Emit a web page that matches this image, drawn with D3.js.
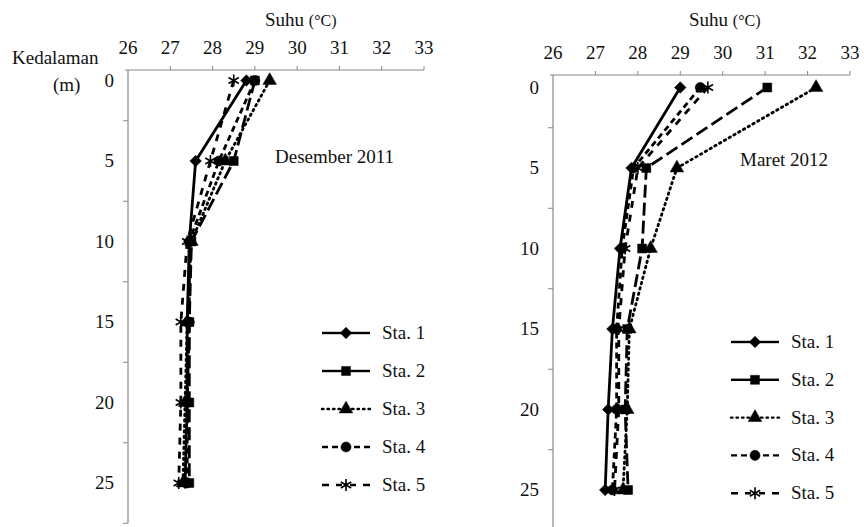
<!DOCTYPE html>
<html>
<head>
<meta charset="utf-8">
<script src="https://cdn.jsdelivr.net/npm/d3@7"></script>
<style>
  body { margin: 0; background: #fff; }
</style>
</head>
<body>
<svg id="chart" width="864" height="527" font-family="'Liberation Serif', 'DejaVu Serif', serif"></svg>
<script>
// depth (m) and temperature ticks
var depths = [0, 5, 10, 15, 20, 25];
var tempTicks = [26, 27, 28, 29, 30, 31, 32, 33];
var depthLabels = [0, 5, 10, 15, 20, 25];
var depthTicks = [2.5, 7.5, 12.5, 17.5, 22.5, 27.5];
var stations = ["Sta. 1", "Sta. 2", "Sta. 3", "Sta. 4", "Sta. 5"];

// Desember 2011, one row per station (temperature at each depth)
var decTemps = [
  [28.8, 27.6, 27.45, 27.4, 27.4, 27.35],
  [29.0, 28.5, 27.5, 27.45, 27.45, 27.45],
  [29.35, 28.3, 27.5, 27.4, 27.35, 27.3],
  [29.0, 28.15, 27.45, 27.45, 27.4, 27.4],
  [28.5, 27.95, 27.4, 27.25, 27.25, 27.2]
];

// Maret 2012
var marTemps = [
  [29.0, 27.85, 27.58, 27.4, 27.3, 27.23],
  [31.05, 28.2, 28.1, 27.75, 27.7, 27.77],
  [32.2, 28.92, 28.3, 27.8, 27.75, 27.65],
  [29.47, 27.9, 27.63, 27.5, 27.5, 27.4],
  [29.65, 28.0, 27.7, 27.55, 27.55, 27.45]
];

// line style + marker per station
var dashes = ["none", "13,5", "1.5,4", "6,4", "7,7"];
var symbols = [d3.symbolDiamond2, d3.symbolSquare, d3.symbolTriangle, d3.symbolCircle, d3.symbolAsterisk];
var symSize = [85, 80, 80, 80, 100];

var svg = d3.select("#chart");
var serif = "'Liberation Serif', 'DejaVu Serif', serif";

function label(sel) {
  return sel.attr("font-family", serif).attr("fill", "#111").attr("font-size", 19);
}

function drawPanel(p, temps) {
  var x = d3.scaleLinear().domain([26, 33]).range([p.left, p.right]);
  var y = d3.scaleLinear().domain([0, 27.5]).range([p.zeroY, p.zeroY + 27.5 * p.perM]);
  var g = svg.append("g");

  // x axis on top
  g.append("line")
    .attr("x1", p.left - 3).attr("x2", p.right)
    .attr("y1", p.top).attr("y2", p.top)
    .attr("stroke", "#888").attr("stroke-width", 1.2);
  g.selectAll(".xt").data(tempTicks.slice(1)).enter().append("line")
    .attr("x1", function(d) { return x(d); }).attr("x2", function(d) { return x(d); })
    .attr("y1", p.top).attr("y2", p.top - 4)
    .attr("stroke", "#888");
  label(g.selectAll(".xl").data(tempTicks).enter().append("text"))
    .attr("x", function(d) { return x(d); })
    .attr("y", p.top - 16)
    .attr("text-anchor", "middle")
    .text(function(d) { return d; });

  // y axis
  g.append("line")
    .attr("x1", p.left).attr("x2", p.left)
    .attr("y1", p.top).attr("y2", y(27.5))
    .attr("stroke", "#888").attr("stroke-width", 1.2);
  g.selectAll(".yt").data(depthTicks).enter().append("line")
    .attr("x1", p.left - 5).attr("x2", p.left)
    .attr("y1", function(d) { return y(d); }).attr("y2", function(d) { return y(d); })
    .attr("stroke", "#888");
  label(g.selectAll(".yl").data(depthLabels).enter().append("text"))
    .attr("x", p.left - 14)
    .attr("y", function(d) { return y(d) + 6; })
    .attr("text-anchor", "end")
    .text(function(d) { return d; });

  // title
  var t = label(g.append("text")).attr("x", p.titleX).attr("y", 26);
  t.append("tspan").text("Suhu ");
  t.append("tspan").attr("font-size", 16).text(p.unitGap + "(\u00B0C)");

  label(g.append("text")).attr("x", p.labelX).attr("y", p.labelY).text(p.label);

  var line = d3.line()
    .x(function(d) { return x(d[1]); })
    .y(function(d) { return y(d[0]); });

  temps.forEach(function(row, i) {
    var pts = depths.map(function(dep, j) { return [dep, row[j]]; });
    g.append("path")
      .datum(pts)
      .attr("d", line)
      .attr("fill", "none")
      .attr("stroke", "#000")
      .attr("stroke-width", 2.8)
      .attr("stroke-linecap", i == 2 ? "round" : "butt")
      .attr("stroke-dasharray", dashes[i]);
    g.selectAll(".m" + i).data(pts).enter().append("path")
      .attr("transform", function(d) { return "translate(" + x(d[1]) + "," + y(d[0]) + ")"; })
      .attr("d", d3.symbol().type(symbols[i]).size(symSize[i]))
      .attr("fill", i == 4 ? "none" : "#000")
      .attr("stroke", "#000")
      .attr("stroke-width", i == 4 ? 1.6 : 0.5);
  });

  // legend
  stations.forEach(function(s, i) {
    var ly = p.legY + i * p.legStep;
    [[p.legX - 24, p.legX - 4], [p.legX + 4, p.legX + 24]].forEach(function(seg, k) {
      g.append("line")
        .attr("x1", k == 0 ? seg[0] : seg[1]).attr("x2", k == 0 ? seg[1] : seg[0])
        .attr("y1", ly).attr("y2", ly)
        .attr("stroke", "#000").attr("stroke-width", 2.4)
        .attr("stroke-linecap", i == 2 ? "round" : "butt")
        .attr("stroke-dasharray", i == 1 ? "none" : dashes[i]);
    });
    g.append("path")
      .attr("transform", "translate(" + p.legX + "," + ly + ")")
      .attr("d", d3.symbol().type(symbols[i]).size(symSize[i]))
      .attr("fill", i == 4 ? "none" : "#000")
      .attr("stroke", "#000")
      .attr("stroke-width", i == 4 ? 1.6 : 0.5);
    label(g.append("text")).attr("x", p.legX + 36).attr("y", ly + 6).text(s);
  });
}

drawPanel({left: 128, right: 424, top: 70, zeroY: 80.5, perM: 16.1,
  titleX: 265, unitGap: "", label: "Desember 2011", labelX: 275, labelY: 163,
  legX: 346, legY: 333, legStep: 38}, decTemps);

drawPanel({left: 553, right: 850, top: 75, zeroY: 87.5, perM: 16.1,
  titleX: 689, unitGap: " ", label: "Maret 2012", labelX: 740, labelY: 166,
  legX: 755, legY: 342, legStep: 37.8}, marTemps);

// left axis caption
label(svg.append("text")).attr("x", 12).attr("y", 64).text("Kedalaman");
label(svg.append("text")).attr("x", 53).attr("y", 91).text("(m)");
</script>
</body>
</html>
